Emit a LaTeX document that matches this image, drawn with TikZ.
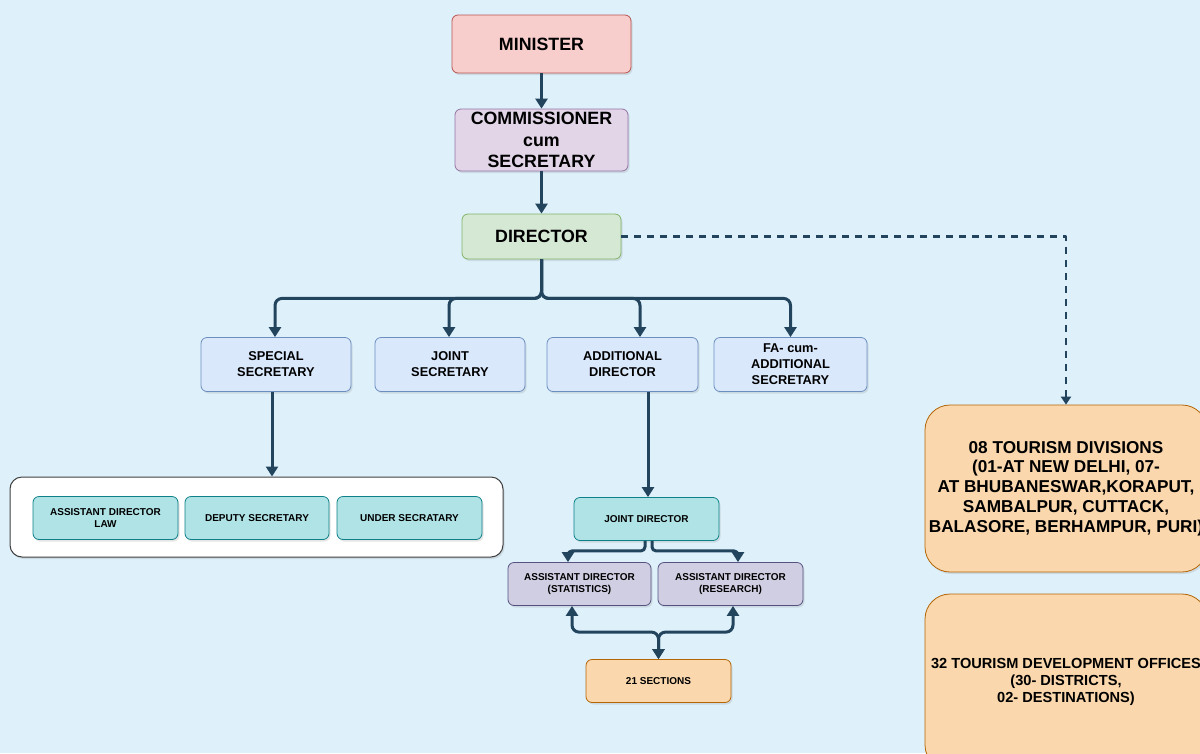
\documentclass[tikz,border=0pt]{standalone}
\usepackage{fontspec}
\setmainfont{Liberation Sans}
\usetikzlibrary{arrows.meta,shadows}

\definecolor{bg}{HTML}{DEF1FB}
\definecolor{edgeblue}{HTML}{23445D}
\definecolor{minfill}{HTML}{F8CECC}
\definecolor{minline}{HTML}{B85450}
\definecolor{comfill}{HTML}{E1D5E7}
\definecolor{comline}{HTML}{9673A6}
\definecolor{dirfill}{HTML}{D5E8D4}
\definecolor{dirline}{HTML}{82B366}
\definecolor{secfill}{HTML}{DAE8FC}
\definecolor{secline}{HTML}{6C8EBF}
\definecolor{tealfill}{HTML}{B0E3E6}
\definecolor{tealline}{HTML}{0E8088}
\definecolor{purfill}{HTML}{D0CEE2}
\definecolor{purline}{HTML}{56517E}
\definecolor{orfill}{HTML}{FAD7AC}
\definecolor{orline}{HTML}{B46504}

\begin{document}
\begin{tikzpicture}[x=1pt,y=-1pt,>={Triangle[length=10pt,width=12pt]},
                    line join=round]
  \tikzstyle{box} = [rectangle, rounded corners=6pt, draw, line width=0.8pt,
    align=center, inner sep=0pt,
    drop shadow={opacity=0.2,shadow xshift=1.5pt,shadow yshift=-2pt}]
  \tikzstyle{big} = [font=\fontsize{17.8}{21.5}\selectfont\bfseries]
  \tikzstyle{mid} = [font=\fontsize{12.8}{16}\selectfont\bfseries]
  \tikzstyle{small} = [font=\fontsize{10}{12.5}\selectfont\bfseries]
  \tikzstyle{link} = [->, draw=edgeblue, line width=3pt, rounded corners=7pt]

  \useasboundingbox (0,0) rectangle (1200,753);
  \clip (0,0) rectangle (1200,753);
  \fill[bg] (0,0) rectangle (1200,753);

  % top of the chart
  \node[box, big, fill=minfill, draw=minline, minimum width=179pt,
        minimum height=58pt] (min) at (541.5,44) {MINISTER};
  \node[box, big, fill=comfill, draw=comline, minimum width=173pt,
        minimum height=62pt] (com) at (541.5,140) {COMMISSIONER\\cum\\SECRETARY};
  \node[box, big, fill=dirfill, draw=dirline, minimum width=159pt,
        minimum height=45pt] (dir) at (541.5,236.5) {DIRECTOR};

  % secretaries
  \node[box, mid, fill=secfill, draw=secline, minimum width=150pt,
        minimum height=54pt] (ss) at (276,364.5) {SPECIAL\\SECRETARY};
  \node[box, mid, fill=secfill, draw=secline, minimum width=150pt,
        minimum height=54pt] (js) at (450,364.5) {JOINT\\SECRETARY};
  \node[box, mid, fill=secfill, draw=secline, minimum width=151pt,
        minimum height=54pt] (ad) at (622.5,364.5) {ADDITIONAL\\DIRECTOR};
  \node[box, mid, fill=secfill, draw=secline, minimum width=153pt,
        minimum height=54pt] (fa) at (790.5,364.5) {FA- cum-\\ADDITIONAL\\SECRETARY};

  % group under the special secretary
  \node[box, rounded corners=12pt, fill=white, draw=black!75, line width=1pt,
        minimum width=493pt, minimum height=80pt] (grp) at (256.5,517) {};
  \node[box, small, fill=tealfill, draw=tealline, minimum width=145pt,
        minimum height=43pt] (adl) at (105.5,518) {ASSISTANT DIRECTOR\\LAW};
  \node[box, small, fill=tealfill, draw=tealline, minimum width=144pt,
        minimum height=43pt] (ds) at (257,518) {DEPUTY SECRETARY};
  \node[box, small, fill=tealfill, draw=tealline, minimum width=145pt,
        minimum height=43pt] (us) at (409.5,518) {UNDER SECRATARY};

  % branch under the additional director
  \node[box, small, fill=tealfill, draw=tealline, minimum width=145pt,
        minimum height=43pt] (jd) at (646.5,519) {JOINT DIRECTOR};
  \node[box, small, fill=purfill, draw=purline, minimum width=143pt,
        minimum height=43pt] (ads) at (579.5,584) {ASSISTANT DIRECTOR\\(STATISTICS)};
  \node[box, small, fill=purfill, draw=purline, minimum width=145pt,
        minimum height=43pt] (adr) at (730.5,584) {ASSISTANT DIRECTOR\\(RESEARCH)};
  \node[box, small, fill=orfill, draw=orline, minimum width=145pt,
        minimum height=43pt] (sec) at (658.5,681) {21 SECTIONS};

  % field offices
  \node[box, rounded corners=25pt, fill=orfill, draw=orline,
        font=\fontsize{17.2}{19.8}\selectfont\bfseries,
        minimum width=282pt, minimum height=167pt] (td) at (1066,488.5)
        {08 TOURISM DIVISIONS\\(01-AT NEW DELHI, 07-\\AT BHUBANESWAR,KORAPUT,\\
         SAMBALPUR, CUTTACK,\\BALASORE, BERHAMPUR, PURI)};
  \node[box, rounded corners=25pt, fill=orfill, draw=orline,
        font=\fontsize{14.6}{17}\selectfont\bfseries,
        minimum width=282pt, minimum height=176pt] (tdo) at (1066,682)
        {32 TOURISM DEVELOPMENT OFFICES\\(30- DISTRICTS,\\02- DESTINATIONS)};

  \draw[link] (min) -- (com);
  \draw[link] (com) -- (dir);
  \draw[link] (dir.south) -- ++(0,39) -| ([xshift=-1pt]ss.north);
  \draw[link] (dir.south) -- ++(0,39) -| ([xshift=-1pt]js.north);
  \draw[link] (dir.south) -- ++(0,39) -| ([xshift=17.5pt]ad.north);
  \draw[link] (dir.south) -- ++(0,39) -| (fa.north);
  \draw[link] ([xshift=-4pt]ss.south) -- ([xshift=-4pt]ss.south |- grp.north);
  \draw[link] ([xshift=1.5pt]jd.north |- ad.south) -- ([xshift=1.5pt]jd.north);
  \draw[link, rounded corners=4pt] ([xshift=-1.5pt]jd.south) -- ++(0,10)
        -| ([xshift=-11.5pt]ads.north);
  \draw[link, rounded corners=4pt] ([xshift=5.5pt]jd.south) -- ++(0,10)
        -| ([xshift=7.5pt]adr.north);
  \draw[link, <->] ([xshift=-7.5pt]ads.south) |- ([yshift=27pt]sec.north)
        -- (sec.north);
  \draw[link, <->] ([xshift=2.5pt]adr.south) |- ([yshift=27pt]sec.north)
        -- (sec.north);
  \draw[->, >={Triangle[length=8pt,width=10pt]}, draw=edgeblue, line width=2.4pt,
        dash pattern=on 7pt off 6pt] (dir.east) -| (td.north);
\end{tikzpicture}
\end{document}
